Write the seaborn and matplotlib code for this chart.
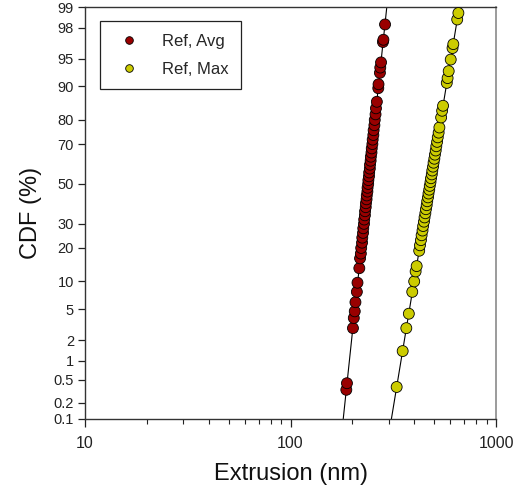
import numpy as np
import pandas as pd
import matplotlib
matplotlib.use("Agg")
import matplotlib.pyplot as plt
import matplotlib.ticker as mticker
import seaborn as sns
from statistics import NormalDist

# Extrusion lengths (nm) and their cumulative probabilities (%)
avg_extrusion = [186.9, 188.2, 201.3, 203.2, 205.4, 207.0, 210.3, 211.8, 216.2, 218.0,
                 219.9, 220.8, 222.9, 223.5, 225.4, 226.0, 227.8, 228.4, 230.1, 230.6,
                 232.3, 232.8, 234.5, 235.0, 236.7, 237.1, 238.8, 239.3, 240.9, 241.5,
                 243.2, 243.7, 245.4, 246.0, 247.8, 248.5, 250.3, 251.1, 253.0, 253.8,
                 256.0, 257.0, 259.3, 260.5, 263.1, 267.4, 268.1, 272.3, 273.4, 275.8,
                 281.7, 283.2, 288.4]
avg_cdf = [0.34, 0.44, 2.9, 3.9, 4.7, 6.0, 7.8, 9.7, 13.4, 16.4,
           18, 20, 22, 24, 26, 28, 30, 32, 34, 36,
           38, 40, 42, 44, 46, 48, 50, 52, 54, 56,
           58, 60, 62, 64, 66, 68, 70, 72, 74, 76,
           78, 80, 82, 84, 86, 89.6, 90.5, 92.8, 93.7, 94.5,
           96.9, 97.1, 98.2]

max_extrusion = [328.5, 351.4, 366.0, 376.5, 391.2, 399.8, 406.3, 411.0, 422.9, 426.5,
                 431.2, 434.5, 438.9, 442.0, 446.1, 449.0, 453.1, 456.0, 459.9, 462.6,
                 466.6, 469.3, 473.3, 476.0, 480.0, 482.8, 486.9, 489.7, 493.9, 496.8,
                 501.1, 504.3, 508.8, 512.2, 516.9, 520.6, 525.8, 530.2, 540.7, 546.8,
                 552.5, 576.0, 581.3, 588.5, 602.0, 614.3, 619.7, 647.4, 656.0]
max_cdf = [0.38, 1.4, 2.9, 4.4, 7.8, 10.0, 12.5, 14.0, 19, 21,
           23, 25, 27, 29, 31, 33, 35, 37, 39, 41,
           43, 45, 47, 49, 51, 53, 55, 57, 59, 61,
           63, 65, 67, 69, 71, 73, 75, 77.1, 80.9, 83.2,
           84.8, 90.8, 91.8, 93.1, 94.9, 96.3, 96.7, 98.47, 98.77]

series_labels = ["Ref, Avg", "Ref, Max"]
series_colors = ["#990000", "#CCCC00"]
y_ticks = [0.1, 0.2, 0.5, 1, 2, 5, 10, 20, 30, 50, 70, 80, 90, 95, 98, 99]
x_ticks = [10, 100, 1000]

nd = NormalDist()
_ppf = np.vectorize(lambda p: nd.inv_cdf(min(max(p / 100.0, 1e-9), 1 - 1e-9)),
                    otypes=[float])
_cdf = np.vectorize(lambda z: 100.0 * nd.cdf(z), otypes=[float])


def prob_forward(p):
    return _ppf(np.asarray(p, dtype=float))


def prob_inverse(z):
    return _cdf(np.asarray(z, dtype=float))


df = pd.concat([
    pd.DataFrame({"Extrusion": avg_extrusion, "CDF": avg_cdf, "Series": series_labels[0]}),
    pd.DataFrame({"Extrusion": max_extrusion, "CDF": max_cdf, "Series": series_labels[1]}),
], ignore_index=True)

sns.set_style("ticks")
plt.rcParams["font.family"] = ["Liberation Sans", "DejaVu Sans"]

fig = plt.figure(figsize=(5.24, 4.90), dpi=100)
ax = fig.add_axes([0.1622, 0.1449, 0.7844, 0.8408])

ax.set_xscale("log")
ax.set_yscale("function", functions=(prob_forward, prob_inverse))

# lognormal fit line for each series
z_line = np.linspace(-3.6, 2.9, 200)
for (name, sub), color in zip(df.groupby("Series", sort=False), series_colors):
    z = prob_forward(sub["CDF"].to_numpy())
    slope, intercept = np.polyfit(z, np.log10(sub["Extrusion"].to_numpy()), 1)
    ax.plot(10 ** (slope * z_line + intercept), prob_inverse(z_line),
            color="black", lw=0.8, zorder=2)

sns.scatterplot(data=df, x="Extrusion", y="CDF", hue="Series",
                palette=series_colors, s=62, edgecolor="black", linewidth=0.6,
                ax=ax, zorder=3, legend=False)

ax.set_xlim(10, 1000)
ax.set_ylim(0.1, 99)

ax.set_yticks(y_ticks)
ax.yaxis.set_major_formatter(mticker.FuncFormatter(lambda v, pos: f"{v:g}"))
ax.yaxis.set_minor_locator(mticker.NullLocator())
ax.set_xticks(x_ticks)
ax.xaxis.set_major_formatter(mticker.FuncFormatter(lambda v, pos: f"{v:g}"))
ax.xaxis.set_minor_locator(mticker.LogLocator(base=10, subs=np.arange(2, 10)))
ax.xaxis.set_minor_formatter(mticker.NullFormatter())

ax.tick_params(axis="y", which="major", direction="out", length=5, width=0.9,
               labelsize=10.5, pad=3, colors="#222222")
ax.tick_params(axis="x", which="major", direction="out", length=6, width=0.9,
               labelsize=11.5, pad=6, colors="#222222")
ax.tick_params(axis="x", which="minor", direction="out", length=3.5, width=0.8,
               colors="#222222")

for side in ["left", "bottom"]:
    ax.spines[side].set_color("#333333")
    ax.spines[side].set_linewidth(1.0)
ax.spines["top"].set_visible(True)
ax.spines["top"].set_color("#333333")
ax.spines["top"].set_linewidth(1.0)
ax.spines["right"].set_visible(True)
ax.spines["right"].set_color("#8a8a8a")
ax.spines["right"].set_linewidth(1.2)

ax.set_xlabel("Extrusion (nm)", fontsize=17, labelpad=9, color="#111111")
ax.set_ylabel("CDF (%)", fontsize=17, labelpad=8, color="#111111")

handles = [plt.Line2D([], [], ls="none", marker="o", markersize=5.5,
                      markerfacecolor=c, markeredgecolor="black", markeredgewidth=0.6)
           for c in series_colors]
leg = ax.legend(handles, series_labels, loc="upper left",
                bbox_to_anchor=(0.0365, 0.966), borderaxespad=0,
                fontsize=12, frameon=True, fancybox=False, shadow=False,
                borderpad=0.75, labelspacing=0.8, handlelength=2.0,
                handletextpad=0.95)
leg.get_frame().set_edgecolor("#222222")
leg.get_frame().set_linewidth(0.9)
leg.get_frame().set_alpha(1)

fig.savefig("out.png", dpi=100)
